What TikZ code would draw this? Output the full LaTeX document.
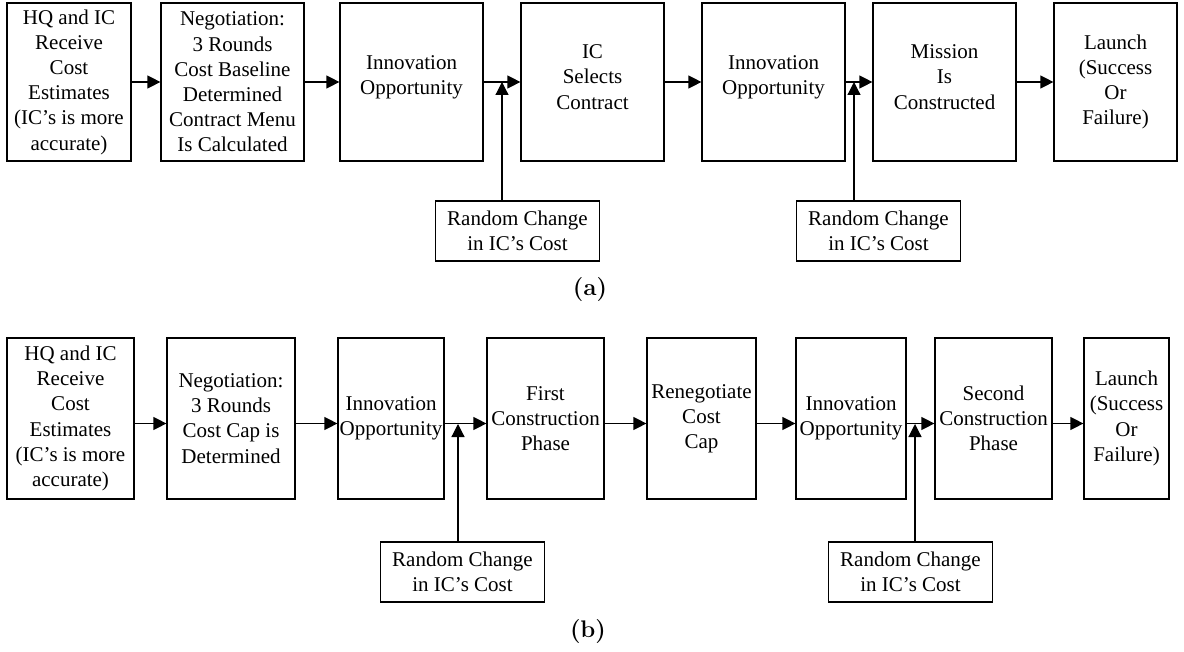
\documentclass[tikz,border=0pt]{standalone}
\usepackage{fontspec}
\newfontfamily\timesfont{Liberation Serif}
\newcommand\capfont{\fontencoding{OT1}\fontfamily{cmr}\fontseries{bx}\fontshape{n}}
\usetikzlibrary{arrows.meta, calc}

\begin{document}
\begin{tikzpicture}[x=0.5pt, y=-0.5pt,
    stage/.style={draw, line width=0.6pt, inner sep=0pt, align=center,
        minimum width=71.5pt, minimum height=79pt,
        font=\timesfont\fontsize{10.5}{12.6}\selectfont},
    shock/.style={draw, line width=0.6pt, inner sep=0pt, align=center,
        minimum width=82pt, minimum height=30pt,
        font=\timesfont\fontsize{10.5}{12.6}\selectfont},
    link/.style={line width=0.6pt, -{Triangle[length=6.5pt, width=6.5pt]}},
    caption/.style={font=\capfont\fontsize{12}{14}\selectfont}]
    \useasboundingbox (0,0) rectangle (1184,652);

    % (a) contract menu
    \node [stage, minimum width=62pt] (A1) at (69,82) {HQ and IC\\Receive\\Cost\\Estimates\\(IC’s is more\\accurate)};
    \node [stage] (A2) at (232.5,82) {Negotiation:\\3 Rounds\\Cost Baseline\\Determined\\Contract Menu\\Is Calculated};
    \node [stage, text depth=7.3pt] (A3) at (411.5,82) {Innovation\\Opportunity};
    \node [stage, text depth=5pt] (A4) at (592.5,82) {IC\\Selects\\Contract};
    \node [stage, text depth=7.3pt] (A5) at (773.5,82) {Innovation\\Opportunity};
    \node [stage, text depth=5pt] (A6) at (944.5,82) {Mission\\Is\\Constructed};
    \node [stage, minimum width=61.5pt] (A7) at (1115.5,82) {Launch\\(Success\\Or\\Failure)};

    \foreach \a/\b in {A1/A2, A2/A3, A3/A4, A4/A5, A5/A6, A6/A7}
        \draw [link] (\a) -- (\b);

    \node [shock] (R1) at (517.5,231) {Random Change\\in IC’s Cost};
    \node [shock] (R2) at (878.5,231) {Random Change\\in IC’s Cost};
    \coordinate (J1) at (502,82);
    \coordinate (J2) at (854,82);
    \draw [link] (R1.north -| J1) -- (J1);
    \draw [link] (R2.north -| J2) -- (J2);

    \node [caption] (capA) at (590,290) {(a)};

    % (b) cost cap
    \node [stage, minimum width=63.5pt, minimum height=80.5pt] (B1) at (70.5,418.5) {HQ and IC\\Receive\\Cost\\Estimates\\(IC’s is more\\accurate)};
    \node [stage, minimum width=64pt, minimum height=80.5pt] (B2) at (231,418.5) {Negotiation:\\3 Rounds\\Cost Cap is\\Determined};
    \node [stage, minimum width=53pt, minimum height=80.5pt] (B3) at (391,418.5) {Innovation\\Opportunity};
    \node [stage, minimum width=58.5pt, minimum height=80.5pt] (B4) at (545.5,418.5) {First\\Construction\\Phase};
    \node [stage, minimum width=54.5pt, minimum height=80.5pt] (B5) at (701.5,418.5) {Renegotiate\\Cost\\Cap};
    \node [stage, minimum width=55pt, minimum height=80.5pt] (B6) at (851,418.5) {Innovation\\Opportunity};
    \node [stage, minimum width=58.5pt, minimum height=80.5pt] (B7) at (993.5,418.5) {Second\\Construction\\Phase};
    \node [stage, minimum width=42.5pt, minimum height=80.5pt] (B8) at (1126.5,418.5) {Launch\\(Success\\Or\\Failure)};

    \foreach \a/\b in {B1/B2, B2/B3, B3/B4, B4/B5, B5/B6, B6/B7, B7/B8}
        \draw [link] ([yshift=-2.5pt]\a.east) -- ([yshift=-2.5pt]\b.west);

    \node [shock] (R3) at (462.5,572) {Random Change\\in IC’s Cost};
    \node [shock] (R4) at (910.5,572) {Random Change\\in IC’s Cost};
    \coordinate (J3) at (458,424);
    \coordinate (J4) at (915,424);
    \draw [link] (R3.north -| J3) -- (J3);
    \draw [link] (R4.north -| J4) -- (J4);

    \node [caption] (capB) at (588,631) {(b)};
\end{tikzpicture}
\end{document}
